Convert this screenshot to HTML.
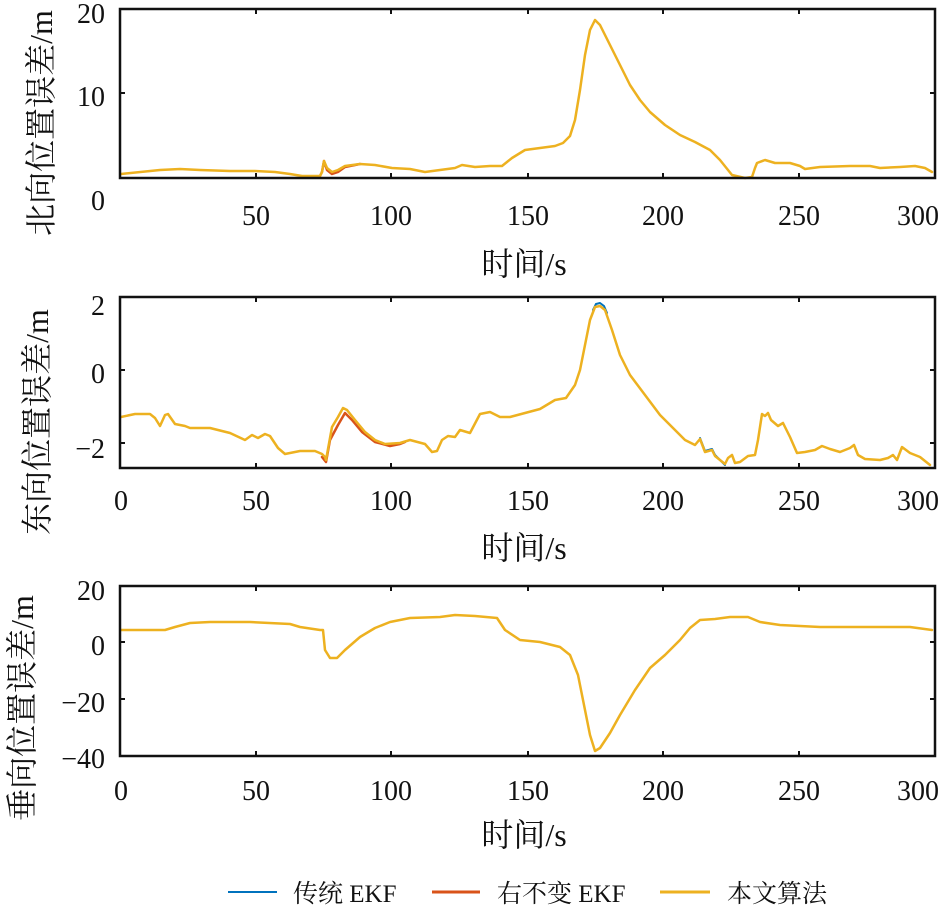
<!DOCTYPE html>
<html><head><meta charset="utf-8"><style>
html,body{margin:0;padding:0;background:#fff;}
svg{display:block;}
text{font-family:"Liberation Serif","Noto Serif CJK SC",serif;fill:#111;}
</style></head><body>
<svg width="951" height="906" viewBox="0 0 951 906" xmlns="http://www.w3.org/2000/svg">
<g fill="none" stroke-linejoin="round" stroke-linecap="round">
<polyline stroke="#D95319" stroke-width="2.5" points="320,176 322,172 324,161 327,170 332,174 338,172 345,167 360,164"/>
<polyline stroke="#EDB120" stroke-width="2.5" points="121,174 160,170 180,169 200,170 230,171 255,171 275,172 290,174 302,176 320,176 322,172 324,161 327,168 332,172 338,170 345,166 360,164 375,165 392,168 410,169 425,172 440,170 455,168 462,165 475,167 490,166 502,166 512,158 525,150 540,148 555,146 563,143 570,136 575,120 580,90 585,55 590,30 595,20 600,25 610,45 620,65 630,85 640,100 650,112 665,125 680,135 695,142 710,150 720,160 732,175 745,178 752,177 755,168 757,163 765,160 775,163 790,163 800,166 805,169 820,167 850,166 870,166 880,168 900,167 915,166 925,168 932,172"/>
<polyline stroke="#0072BD" stroke-width="2" points="593,310 596,304 600,303 604,306 607,313"/>
<polyline stroke="#0072BD" stroke-width="2" points="700,438 705,451 712,449 715,455 720,460 725,465"/>
<polyline stroke="#D95319" stroke-width="2.5" points="322,457 326,462 330,440 338,425 345,413 352,420 362,432 375,442 390,446 400,444 405,442"/>
<polyline stroke="#EDB120" stroke-width="2.5" points="121,417 135,414 150,414 155,418 160,426 165,415 168,414 175,424 185,426 190,428 210,428 230,433 245,440 252,435 258,438 265,434 270,436 278,448 285,454 300,451 315,451 322,454 325,457 326,460 332,427 338,417 343,408 347,410 355,420 365,432 375,440 385,444 400,443 410,440 425,444 432,452 437,451 442,440 448,436 455,437 460,430 470,433 480,414 490,412 500,417 510,417 525,413 540,409 555,400 566,398 575,385 580,370 585,345 590,320 595,307 600,306 605,310 612,330 620,355 630,375 645,395 660,415 675,430 685,440 695,445 700,439 705,452 712,450 715,456 720,460 725,464 728,458 732,455 735,463 740,462 748,456 755,455 758,440 762,414 765,416 768,413 771,420 778,426 783,423 790,437 797,453 805,452 815,450 822,446 830,449 840,452 850,448 854,445 858,455 865,459 880,460 888,458 893,455 897,460 902,447 910,453 920,457 930,465"/>
<polyline stroke="#EDB120" stroke-width="2.5" points="121,630 165,630 175,627 190,623 210,622 250,622 290,624 300,627 320,630 323,630 325,650 330,658 337,658 345,650 360,637 375,628 390,622 410,618 440,617 455,615 475,616 497,618 505,630 520,640 540,642 560,647 570,655 578,675 585,710 590,735 595,751 600,748 610,733 620,715 635,690 650,668 665,655 680,640 690,628 700,620 715,619 730,617 748,617 760,622 780,625 800,626 820,627 850,627 880,627 910,627 932,630"/>
</g>
<g fill="none" stroke="#111" stroke-width="2.5">
<rect x="120" y="9" width="815" height="169"/>
<rect x="120" y="297" width="815" height="171"/>
<rect x="120" y="586" width="815" height="170"/>
</g>
<g stroke="#111" stroke-width="2">
<path d="M256,9v5M391,9v5M528,9v5M663,9v5M799,9v5M256,178v-5M391,178v-5M528,178v-5M663,178v-5M799,178v-5M120,93h5M935,93h-5"/>
<path d="M256,297v5M391,297v5M528,297v5M663,297v5M799,297v5M256,468v-5M391,468v-5M528,468v-5M663,468v-5M799,468v-5M120,370h5M935,370h-5M120,443h5M935,443h-5"/>
<path d="M256,586v5M391,586v5M528,586v5M663,586v5M799,586v5M256,756v-5M391,756v-5M528,756v-5M663,756v-5M799,756v-5M120,642h5M935,642h-5M120,699h5M935,699h-5"/>
</g>
<g font-size="28" text-anchor="end">
<text x="105" y="23">20</text><text x="105" y="106">10</text><text x="105" y="210">0</text>
<text x="105" y="315">2</text><text x="105" y="383">0</text><text x="105" y="458">−2</text>
<text x="105" y="600">20</text><text x="105" y="655">0</text><text x="105" y="712">−20</text><text x="105" y="768">−40</text>
</g>
<g font-size="28" text-anchor="middle">
<text x="256" y="225">50</text><text x="391" y="225">100</text><text x="528" y="225">150</text><text x="663" y="225">200</text><text x="799" y="225">250</text><text x="918" y="225">300</text>
<text x="121" y="510">0</text><text x="256" y="510">50</text><text x="391" y="510">100</text><text x="528" y="510">150</text><text x="663" y="510">200</text><text x="799" y="510">250</text><text x="918" y="510">300</text>
<text x="121" y="800">0</text><text x="256" y="800">50</text><text x="391" y="800">100</text><text x="528" y="800">150</text><text x="663" y="800">200</text><text x="799" y="800">250</text><text x="918" y="800">300</text>
</g>
<g font-size="32" text-anchor="middle">
<text x="524" y="275">时间/s</text>
<text x="524" y="559">时间/s</text>
<text x="524" y="846">时间/s</text>
<text transform="translate(52,123) rotate(-90)">北向位置误差/m</text>
<text transform="translate(48,422) rotate(-90)">东向位置误差/m</text>
<text transform="translate(33,708) rotate(-90)">垂向位置误差/m</text>
</g>
<g stroke-width="3">
<line x1="228" y1="892" x2="277" y2="892" stroke="#0072BD" stroke-width="2"/>
<line x1="432" y1="892" x2="480" y2="892" stroke="#D95319"/>
<line x1="660" y1="892" x2="710" y2="892" stroke="#EDB120"/>
</g>
<g font-size="25">
<text x="293" y="902">传统 EKF</text>
<text x="497" y="902">右不变 EKF</text>
<text x="727" y="902">本文算法</text>
</g>
</svg>
</body></html>
